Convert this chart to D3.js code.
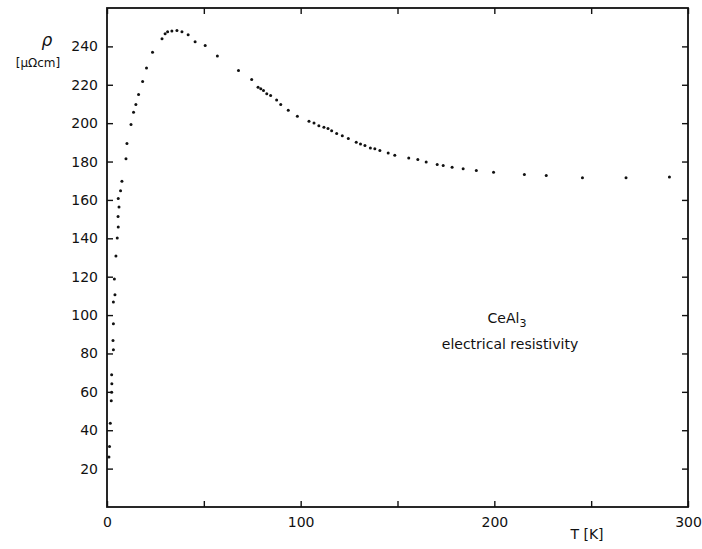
<!DOCTYPE html>
<html>
<head>
<meta charset="utf-8">
<script src="https://cdn.jsdelivr.net/npm/d3@7"></script>
<style>
  body { margin: 0; background: #fff; }
  text { font-family: "DejaVu Sans", sans-serif; fill: #111; }
</style>
</head>
<body>
<div id="chart"></div>
<script>
/* Data: temperature (K) and resistivity (µΩcm), paired by index */
const temps = [
  1.0, 1.3, 1.7, 2.2, 2.4, 2.5, 2.4, 3.3, 3.1, 3.3,
  3.3, 4.1, 3.8, 4.6, 5.3, 5.8, 5.7, 6.2, 5.8, 7.0,
  7.7, 9.8, 10.3, 12.4, 13.7, 14.9, 16.3, 18.4, 20.4, 23.5,
  28.4, 30.0, 31.3, 33.5, 36.1, 38.7, 41.9, 45.5, 50.7, 57.0,
  67.9, 74.7, 78.0, 79.4, 80.8, 82.5, 84.5, 87.6, 89.7, 93.6,
  98.3, 104.3, 106.9, 109.4, 112.0, 114.1, 116.0, 118.6, 121.5, 124.6,
  128.7, 130.9, 133.2, 136.0, 138.3, 140.9, 145.2, 148.6, 155.8, 160.5,
  164.8, 170.5, 173.6, 178.2, 183.9, 190.7, 199.6, 215.5, 226.8, 245.5,
  268.0, 290.4
];
const rho = [
  26, 31.5, 43.7, 55.3, 59.8, 64.2, 68.9, 81.9, 86.8, 95.5,
  106.8, 110.6, 118.8, 130.8, 140.1, 145.9, 151.4, 156.3, 160.7, 164.8,
  169.7, 181.4, 189.4, 199.3, 205.7, 209.7, 214.9, 221.7, 228.7, 237,
  244, 246.6, 247.6, 248, 248.3, 247.6, 246, 242.4, 240.5, 235,
  227.4, 222.7, 218.7, 217.9, 217, 215.3, 214.4, 212, 209.7, 206.7,
  203.6, 201, 200.1, 198.7, 197.9, 197.2, 196.1, 194.6, 193.5, 192,
  190, 189.2, 188.3, 187.1, 186.6, 185.7, 184.5, 183.3, 181.9, 181,
  179.8, 178.4, 177.9, 177, 176.3, 175.3, 174.4, 173.2, 172.7, 171.5,
  171.5, 172
];

const xTicks = [0, 50, 100, 150, 200, 250, 300];
const xLabels = [0, 100, 200, 300];
const yTicks = [20, 40, 60, 80, 100, 120, 140, 160, 180, 200, 220, 240];

/* Dimensions */
const width = 702;
const height = 549;
const plot = { left: 107, right: 688, top: 8, bottom: 507 };

const svg = d3.select("#chart")
  .append("svg")
  .attr("width", width)
  .attr("height", height);

svg.append("rect")
  .attr("width", width)
  .attr("height", height)
  .attr("fill", "#fff");

/* Scales */
const xScale = d3.scaleLinear().domain([0, 300]).range([plot.left, plot.right]);
const yScale = d3.scaleLinear().domain([0, 260]).range([plot.bottom, plot.top]);

/* Frame */
svg.append("rect")
  .attr("x", xScale(0))
  .attr("y", yScale(260))
  .attr("width", xScale(300) - xScale(0))
  .attr("height", yScale(0) - yScale(260))
  .attr("fill", "none")
  .attr("stroke", "#111")
  .attr("stroke-width", 1.8);

/* Axes: ticks point into the plot */
const styleAxis = (g) => {
  g.select(".domain").remove();
  g.selectAll(".tick line").attr("stroke", "#111").attr("stroke-width", 1.4);
  g.selectAll(".tick text").style("font-size", "14px").attr("fill", "#111");
};

// bottom
svg.append("g")
  .attr("transform", `translate(0,${plot.bottom})`)
  .call(d3.axisBottom(xScale)
    .tickValues(xTicks)
    .tickSize(-6)
    .tickPadding(10)
    .tickFormat(d => xLabels.includes(d) ? d : ""))
  .call(styleAxis);

// top
svg.append("g")
  .attr("transform", `translate(0,${plot.top})`)
  .call(d3.axisTop(xScale).tickValues(xTicks).tickSize(-6).tickFormat(""))
  .call(styleAxis);

// left
svg.append("g")
  .attr("transform", `translate(${plot.left},0)`)
  .call(d3.axisLeft(yScale).tickValues(yTicks).tickSize(-6).tickPadding(9))
  .call(styleAxis);

// right
svg.append("g")
  .attr("transform", `translate(${plot.right},0)`)
  .call(d3.axisRight(yScale).tickValues(yTicks).tickSize(-6).tickFormat(""))
  .call(styleAxis);

/* Points */
const points = temps.map((t, i) => ({ t: t, r: rho[i] }));
svg.selectAll(".pt")
  .data(points)
  .enter()
  .append("circle")
  .attr("class", "pt")
  .attr("cx", d => xScale(d.t))
  .attr("cy", d => yScale(d.r))
  .attr("r", 1.5)
  .attr("fill", "#111");

/* Labels */
svg.append("text")
  .attr("x", 47)
  .attr("y", 46)
  .attr("text-anchor", "middle")
  .style("font-size", "17px")
  .style("font-style", "italic")
  .text("ρ");

svg.append("text")
  .attr("x", 38)
  .attr("y", 67)
  .attr("text-anchor", "middle")
  .style("font-size", "12px")
  .text("[μΩcm]");

svg.append("text")
  .attr("x", 587)
  .attr("y", 539)
  .attr("text-anchor", "middle")
  .style("font-size", "14px")
  .text("T [K]");

const title = svg.append("text")
  .attr("x", 507)
  .attr("y", 323)
  .attr("text-anchor", "middle")
  .style("font-size", "14px");
title.append("tspan").text("CeAl");
title.append("tspan").attr("dy", 4).style("font-size", "11px").text("3");

svg.append("text")
  .attr("x", 510)
  .attr("y", 349)
  .attr("text-anchor", "middle")
  .style("font-size", "14px")
  .text("electrical resistivity");
</script>
</body>
</html>
